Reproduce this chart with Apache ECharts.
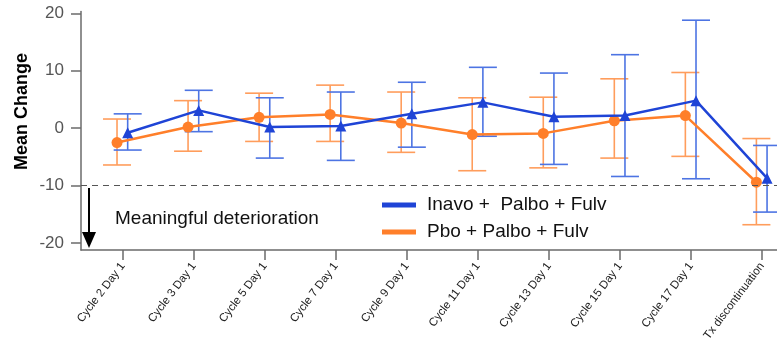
<!DOCTYPE html>
<html><head><meta charset="utf-8">
<script src="https://cdn.jsdelivr.net/npm/echarts@6/dist/echarts.min.js"></script>
<style>html,body{margin:0;padding:0;background:#fff}#c{width:777px;height:349px}</style>
</head><body><div id="c"></div>
<script>
const categories = ['Cycle 2 Day 1','Cycle 3 Day 1','Cycle 5 Day 1','Cycle 7 Day 1','Cycle 9 Day 1','Cycle 11 Day 1','Cycle 13 Day 1','Cycle 15 Day 1','Cycle 17 Day 1','Tx discontinuation'];
const inavoMean  = [-0.8, 3.1, 0.2, 0.4, 2.5, 4.5, 2.0, 2.2, 4.8, -8.7];
const inavoUpper = [ 2.5, 6.6, 5.3, 6.3, 8.0, 10.6, 9.6, 12.8, 18.8, -3.0];
const inavoLower = [-3.8, -0.6, -5.2, -5.6, -3.3, -1.4, -6.3, -8.4, -8.8, -14.6];
const pboMean  = [-2.5, 0.2, 1.9, 2.4, 0.9, -1.1, -0.9, 1.3, 2.2, -9.4];
const pboUpper = [ 1.6, 4.8, 6.1, 7.5, 6.3, 5.3, 5.4, 8.6, 9.7, -1.8];
const pboLower = [-6.4, -4.0, -2.3, -2.3, -4.2, -7.4, -6.9, -5.2, -4.9, -16.8];
const yTicks = [-20, -10, 0, 10, 20];
const threshold = -10;
const seriesNames = ['Inavo +  Palbo + Fulv', 'Pbo + Palbo + Fulv'];

const BLUE = '#1f44d6', BLUE_ERR = '#4d74e3';
const ORANGE = '#ff7f2a', ORANGE_ERR = '#ff9d5c';
const xPos = categories.map((c, i) => i + 1);
const offBlue = 0.07, offOrange = -0.08;

function errSeries(name, mean, lo, hi, off, color) {
  return {
    type: 'custom', name: name + '_err', z: 1, silent: true,
    data: mean.map((m, i) => [xPos[i] + off, lo[i], hi[i]]),
    renderItem: function (params, api) {
      const x = api.value(0);
      const pL = api.coord([x, api.value(1)]);
      const pH = api.coord([x, api.value(2)]);
      const w = 14;
      const st = { stroke: color, lineWidth: 1.6 };
      return { type: 'group', children: [
        { type: 'line', shape: { x1: pL[0], y1: pL[1], x2: pH[0], y2: pH[1] }, style: st },
        { type: 'line', shape: { x1: pL[0] - w, y1: pL[1], x2: pL[0] + w, y2: pL[1] }, style: st },
        { type: 'line', shape: { x1: pH[0] - w, y1: pH[1], x2: pH[0] + w, y2: pH[1] }, style: st }
      ]};
    }
  };
}

const chart = echarts.init(document.getElementById('c'));
chart.setOption({
  animation: false,
  textStyle: { fontFamily: 'Liberation Sans' },
  grid: { left: 81, right: 0, top: 11.6, bottom: 99 },
  legend: {
    orient: 'vertical', left: 382, top: 194, padding: 0,
    itemWidth: 34, itemHeight: 5, itemGap: 5,
    icon: 'rect',
    data: [
      { name: seriesNames[0], itemStyle: { color: BLUE } },
      { name: seriesNames[1], itemStyle: { color: ORANGE } }
    ],
    textStyle: { fontSize: 19, color: '#111', lineHeight: 22, padding: [0, 0, 0, 6] },
    selectedMode: false
  },
  xAxis: {
    type: 'value', min: 0.413, max: 10.21,
    splitLine: { show: false },
    axisLine: { show: true, onZero: false, lineStyle: { color: '#6b6b6b', width: 1.5 } },
    axisTick: { show: true, length: 10, customValues: xPos, lineStyle: { color: '#6b6b6b', width: 1.5 } },
    axisLabel: {
      customValues: xPos, rotate: 53, fontSize: 11.5, color: '#222', margin: 14,
      formatter: v => categories[Math.round(v) - 1] || ''
    }
  },
  yAxis: {
    type: 'value', min: -21.2, max: 20.3,
    splitLine: { show: false },
    axisLine: { show: true, onZero: false, lineStyle: { color: '#6b6b6b', width: 1.5 } },
    axisTick: { show: true, length: 10, customValues: yTicks, lineStyle: { color: '#6b6b6b', width: 1.5 } },
    axisLabel: { customValues: yTicks, fontSize: 17, color: '#555', margin: 17 }
  },
  graphic: [
    { type: 'text', x: 22, y: 111.5, rotation: Math.PI / 2,
      style: { text: 'Mean Change', font: 'bold 18px "Liberation Sans"', fill: '#000', align: 'center', verticalAlign: 'middle' } },
    { type: 'text', x: 115, y: 219,
      style: { text: 'Meaningful deterioration', font: '19px "Liberation Sans"', fill: '#111', align: 'left', verticalAlign: 'middle' } },
    { type: 'line', shape: { x1: 89, y1: 188, x2: 89, y2: 235 }, style: { stroke: '#000', lineWidth: 2 } },
    { type: 'polygon', shape: { points: [[82, 232], [96, 232], [89, 248]] }, style: { fill: '#000' } }
  ],
  series: [
    errSeries(seriesNames[1], pboMean, pboLower, pboUpper, offOrange, ORANGE_ERR),
    errSeries(seriesNames[0], inavoMean, inavoLower, inavoUpper, offBlue, BLUE_ERR),
    {
      type: 'line', name: seriesNames[1], z: 3,
      data: pboMean.map((v, i) => [xPos[i] + offOrange, v]),
      symbol: 'circle', symbolSize: 11,
      lineStyle: { color: ORANGE, width: 2.5 }, itemStyle: { color: ORANGE },
      markLine: {
        silent: true, symbol: 'none', label: { show: false },
        lineStyle: { color: '#555', type: [6, 5], width: 1.2 },
        data: [{ yAxis: threshold }]
      }
    },
    {
      type: 'line', name: seriesNames[0], z: 4,
      data: inavoMean.map((v, i) => [xPos[i] + offBlue, v]),
      symbol: 'triangle', symbolSize: 11,
      lineStyle: { color: BLUE, width: 2.5 }, itemStyle: { color: BLUE }
    }
  ]
});
</script></body></html>
